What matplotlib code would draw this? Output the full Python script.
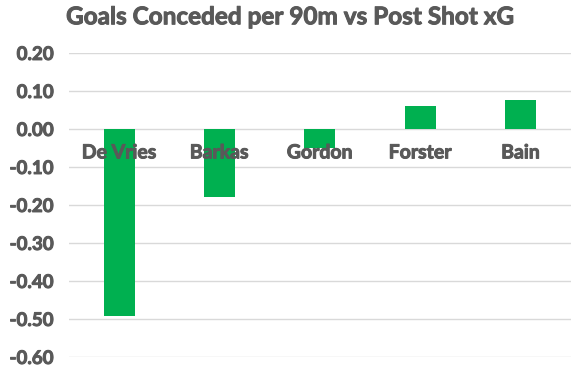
import matplotlib.pyplot as plt
import matplotlib.patheffects as pe
import numpy as np

# datos
players = ["De Vries", "Barkas", "Gordon", "Forster", "Bain"]
diff = [-0.493, -0.178, -0.051, 0.060, 0.076]
yticks = [0.2, 0.1, 0.0, -0.1, -0.2, -0.3, -0.4, -0.5, -0.6]

gris = "#595959"
verde = "#00B050"

plt.rcParams['font.family'] = ['Lato', 'DejaVu Sans']
grueso = [pe.withStroke(linewidth=0.7, foreground=gris)]

fig = plt.figure(figsize=(5.79, 3.73), dpi=100)
ax = fig.add_axes([0.119, 0.043, 0.867, 0.815])

x = np.arange(len(players))
ax.bar(x, diff, width=0.31, color=verde, zorder=3)

ax.set_ylim(-0.6, 0.2)
ax.set_xlim(-0.5, len(players) - 0.5)
ax.set_yticks(yticks)
ax.set_yticklabels([f"{v:.2f}" for v in yticks], fontsize=13.5, fontweight='bold',
                   color=gris, path_effects=grueso)
ax.set_xticks([])
ax.tick_params(axis='y', length=0, pad=11)
ax.grid(axis='y', color="#D9D9D9", linewidth=1, zorder=0)
for s in ax.spines.values():
    s.set_visible(False)

# etiquetas de categoría sobre el eje cero
for i, name in enumerate(players):
    ax.text(i, -0.063, name, ha='center', va='center', fontsize=14,
            fontweight='bold', color=gris, zorder=4, path_effects=grueso)

fig.text(0.5, 0.955, "Goals Conceded per 90m vs Post Shot xG", ha='center', va='center',
         fontsize=17.5, fontweight='bold', color=gris, path_effects=grueso)

fig.savefig("out.png", dpi=100)
